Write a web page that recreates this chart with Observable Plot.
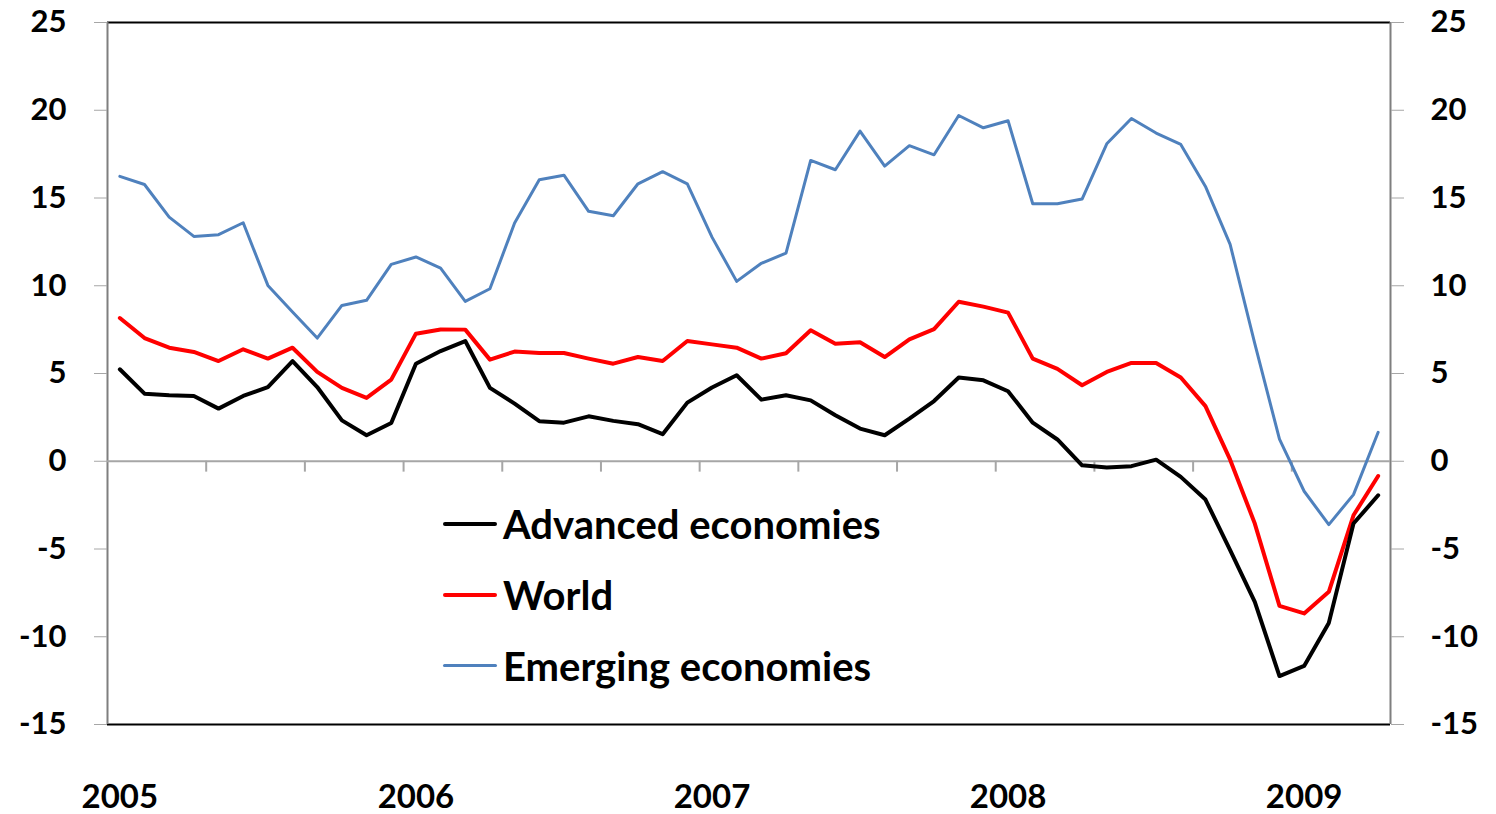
<!DOCTYPE html>
<html>
<head>
<meta charset="utf-8">
<script src="https://cdn.jsdelivr.net/npm/d3@7"></script>
<script src="https://cdn.jsdelivr.net/npm/@observablehq/plot@0.6"></script>
<style>
  html, body { margin: 0; padding: 0; background: #fff; }
  #wrap { position: relative; width: 1496px; height: 814px; font-family: Lato, "Open Sans", sans-serif; }
  #legend { position: absolute; left: 443px; top: 488px; font-weight: bold; font-size: 40px; color: #000; }
  .item { display: flex; align-items: center; height: 71px; }
  .sw { width: 54px; margin-right: 6px; border-radius: 2px; }
</style>
</head>
<body>
<div id="wrap"></div>
<script>
// Monthly observations, Jan 2005 .. Apr 2009 (index 0..51)
const advanced = [5.24, 3.85, 3.76, 3.72, 3.00, 3.72, 4.23, 5.71, 4.23, 2.33,
  1.48, 2.18, 5.56, 6.28, 6.85, 4.18, 3.28, 2.28, 2.20, 2.56,
  2.30, 2.11, 1.54, 3.34, 4.20, 4.90, 3.51, 3.76, 3.47, 2.62,
  1.86, 1.48, 2.43, 3.43, 4.77, 4.61, 3.99, 2.20, 1.24, -0.23,
  -0.36, -0.28, 0.09, -0.89, -2.18, -5.07, -8.01, -12.24, -11.66, -9.21,
  -3.55, -1.94];
const world = [8.16, 7.02, 6.47, 6.23, 5.71, 6.38, 5.85, 6.47, 5.09, 4.18,
  3.61, 4.65, 7.27, 7.51, 7.50, 5.79, 6.25, 6.17, 6.17, 5.85,
  5.56, 5.94, 5.71, 6.85, 6.66, 6.47, 5.85, 6.15, 7.46, 6.70,
  6.78, 5.94, 6.95, 7.53, 9.09, 8.81, 8.47, 5.85, 5.26, 4.33,
  5.09, 5.60, 5.60, 4.77, 3.14, 0.09, -3.55, -8.24, -8.67, -7.44,
  -3.08, -0.84];
const emerging = [16.23, 15.77, 13.91, 12.81, 12.91, 13.59, 10.02, 8.50, 7.02, 8.88,
  9.17, 11.22, 11.64, 11.00, 9.11, 9.83, 13.57, 16.04, 16.30, 14.24,
  13.99, 15.81, 16.50, 15.81, 12.77, 10.25, 11.28, 11.86, 17.14, 16.61,
  18.81, 16.82, 17.98, 17.46, 19.70, 19.00, 19.40, 14.67, 14.67, 14.94,
  18.09, 19.53, 18.70, 18.05, 15.66, 12.36, 6.70, 1.26, -1.71, -3.61,
  -1.90, 1.65];
const seriesNames = ["Advanced economies", "World", "Emerging economies"];
const seriesColors = ["#000000", "#ff0000", "#4f81bd"];
const seriesWidths = [4, 4, 3];
const yearLabels = ["2005", "2006", "2007", "2008", "2009"];
const yearIndex = [0, 12, 24, 36, 48];
const yTicks = [-15, -10, -5, 0, 5, 10, 15, 20, 25];
const monthBoundaryTicks = [3.5, 7.5, 11.5, 15.5, 19.5, 23.5, 27.5, 31.5, 35.5, 39.5, 43.5, 47.5];

const idx = d3.range(advanced.length);
const seriesData = [advanced, world, emerging];

const axisStyle = {fontSize: 31, fontWeight: "bold", tickFormat: (d) => String(d)};

const chart = Plot.plot({
  width: 1496,
  height: 814,
  marginTop: 22,
  marginBottom: 90,
  marginLeft: 107,
  marginRight: 106,
  style: {fontFamily: "Lato, 'Open Sans', sans-serif", color: "#000", background: "#fff"},
  x: {domain: [-0.5, idx.length - 0.5]},
  y: {domain: [-15, 25]},
  marks: [
    Plot.ruleY([25, -15], {stroke: "#000", strokeWidth: 2}),
    Plot.ruleX([-0.5, idx.length - 0.5], {stroke: "#7f7f7f", strokeWidth: 2}),
    Plot.ruleY([0], {stroke: "#a6a6a6", strokeWidth: 2}),
    Plot.ruleX(monthBoundaryTicks, {y1: 0, y2: -0.62, stroke: "#a6a6a6", strokeWidth: 2}),
    Plot.axisY(yTicks, {anchor: "left", tickSize: 13, tickPadding: 28, stroke: "#a6a6a6", ...axisStyle}),
    Plot.axisY(yTicks, {anchor: "right", tickSize: 13, tickPadding: 27, stroke: "#a6a6a6", ...axisStyle}),
    Plot.axisX(yearIndex, {anchor: "bottom", tickSize: 0, tickPadding: 60, tickFormat: (d) => yearLabels[yearIndex.indexOf(d)], fontSize: 33, fontWeight: "bold"}),
    ...seriesData.map((vals, k) =>
      Plot.line(idx, {x: (i) => i, y: (i) => vals[i], stroke: seriesColors[k], strokeWidth: seriesWidths[k], strokeLinejoin: "round", strokeLinecap: "round"})
    ).reverse()
  ]
});

const wrap = document.getElementById("wrap");
wrap.appendChild(chart);

const legend = document.createElement("div");
legend.id = "legend";
seriesNames.forEach((name, k) => {
  const item = document.createElement("div");
  item.className = "item";
  const sw = document.createElement("span");
  sw.className = "sw";
  sw.style.height = seriesWidths[k] + "px";
  sw.style.background = seriesColors[k];
  const t = document.createElement("span");
  t.textContent = name;
  item.appendChild(sw);
  item.appendChild(t);
  legend.appendChild(item);
});
wrap.appendChild(legend);
</script>
</body>
</html>
